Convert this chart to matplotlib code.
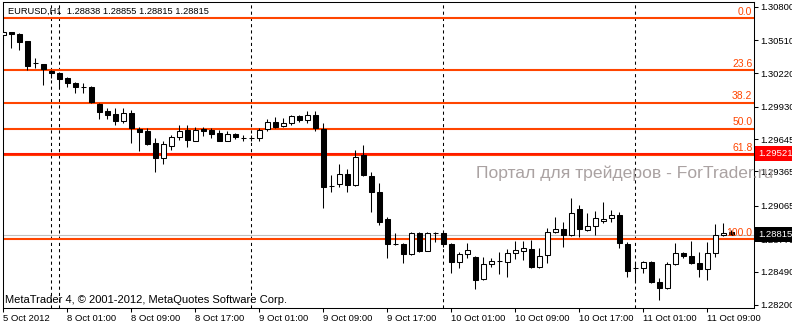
import numpy as np
import matplotlib
matplotlib.use("Agg")
import matplotlib.pyplot as plt

plt.rcParams['font.family'] = ['Liberation Sans', 'DejaVu Sans']

# EURUSD H1 candles (bar index = position on the time axis)
opens = [1.30556, 1.30579, 1.30564, 1.30499, 1.30309, 1.30300, 1.30239, 1.30222, 1.30178, 1.30134,
         1.30105, 1.30099, 1.29954, 1.29893, 1.29867, 1.29808, 1.29878, 1.29733, 1.29720, 1.29611,
         1.29485, 1.29590, 1.29663, 1.29727, 1.29634, 1.29733, 1.29727, 1.29703, 1.29634, 1.29692,
         1.29660, 1.29654, 1.29654, 1.29733, 1.29799, 1.29762, 1.29785, 1.29849, 1.29814, 1.29858,
         1.29733, 1.29238, 1.29256, 1.29340, 1.29247, 1.29509, 1.29326, 1.29188, 1.28950, 1.28732,
         1.28732, 1.28642, 1.28826, 1.28674, 1.28831, 1.28826, 1.28730, 1.28578, 1.28642, 1.28621,
         1.28424, 1.28555, 1.28584, 1.28578, 1.28651, 1.28674, 1.28686, 1.28534, 1.28636, 1.28839,
         1.28860, 1.28811, 1.29036, 1.28854, 1.28889, 1.28933, 1.28957, 1.28985, 1.28732, 1.28525,
         1.28525, 1.28573, 1.28403, 1.28346, 1.28558, 1.28651, 1.28627, 1.28569, 1.28511, 1.28651,
         1.28811, 1.28838]
highs = [1.30695, 1.30586, 1.30573, 1.30503, 1.30355, 1.30307, 1.30250, 1.30233, 1.30189, 1.30146,
         1.30137, 1.30111, 1.29962, 1.29919, 1.29919, 1.29919, 1.29901, 1.29756, 1.29744, 1.29654,
         1.29631, 1.29683, 1.29770, 1.29770, 1.29756, 1.29756, 1.29742, 1.29727, 1.29720, 1.29703,
         1.29683, 1.29683, 1.29742, 1.29820, 1.29838, 1.29829, 1.29858, 1.29858, 1.29893, 1.29893,
         1.29785, 1.29334, 1.29430, 1.29386, 1.29552, 1.29596, 1.29363, 1.29262, 1.28968, 1.28831,
         1.28741, 1.28839, 1.28839, 1.28839, 1.28837, 1.28837, 1.28738, 1.28665, 1.28743, 1.28627,
         1.28616, 1.28607, 1.28665, 1.28686, 1.28761, 1.28761, 1.28767, 1.28695, 1.28869, 1.28970,
         1.28924, 1.29131, 1.29072, 1.29000, 1.29020, 1.29101, 1.29029, 1.29014, 1.28752, 1.28578,
         1.28586, 1.28586, 1.28433, 1.28578, 1.28738, 1.28662, 1.28761, 1.28665, 1.28752, 1.28907,
         1.28913, 1.28855]
lows = [1.30477, 1.30442, 1.30425, 1.30250, 1.30268, 1.30120, 1.30181, 1.30093, 1.30102, 1.30050,
        1.30050, 1.29962, 1.29823, 1.29823, 1.29770, 1.29788, 1.29613, 1.29546, 1.29596, 1.29363,
        1.29430, 1.29552, 1.29640, 1.29576, 1.29631, 1.29675, 1.29654, 1.29631, 1.29631, 1.29646,
        1.29634, 1.29631, 1.29634, 1.29720, 1.29742, 1.29750, 1.29770, 1.29799, 1.29790, 1.29720,
        1.29049, 1.29188, 1.29232, 1.29188, 1.29238, 1.29326, 1.29009, 1.28898, 1.28607, 1.28724,
        1.28569, 1.28636, 1.28662, 1.28671, 1.28752, 1.28706, 1.28482, 1.28520, 1.28613, 1.28340,
        1.28418, 1.28534, 1.28468, 1.28447, 1.28599, 1.28593, 1.28523, 1.28526, 1.28564, 1.28828,
        1.28703, 1.28802, 1.28796, 1.28845, 1.28811, 1.28913, 1.28924, 1.28695, 1.28447, 1.28403,
        1.28477, 1.28392, 1.28244, 1.28340, 1.28549, 1.28610, 1.28558, 1.28447, 1.28418, 1.28621,
        1.28802, 1.28815]
closes = [1.30579, 1.30564, 1.30497, 1.30288, 1.30309, 1.30259, 1.30222, 1.30172, 1.30134, 1.30105,
          1.30105, 1.29974, 1.29886, 1.29858, 1.29808, 1.29878, 1.29742, 1.29712, 1.29602, 1.29485,
          1.29605, 1.29663, 1.29720, 1.29640, 1.29727, 1.29720, 1.29692, 1.29634, 1.29692, 1.29668,
          1.29660, 1.29654, 1.29727, 1.29799, 1.29756, 1.29785, 1.29849, 1.29814, 1.29858, 1.29742,
          1.29232, 1.29238, 1.29340, 1.29247, 1.29494, 1.29334, 1.29188, 1.28924, 1.28730, 1.28732,
          1.28642, 1.28826, 1.28671, 1.28831, 1.28831, 1.28730, 1.28578, 1.28642, 1.28680, 1.28418,
          1.28558, 1.28586, 1.28584, 1.28651, 1.28680, 1.28695, 1.28534, 1.28627, 1.28839, 1.28860,
          1.28811, 1.29006, 1.28860, 1.28889, 1.28957, 1.28946, 1.28985, 1.28738, 1.28499, 1.28525,
          1.28573, 1.28403, 1.28346, 1.28558, 1.28651, 1.28627, 1.28569, 1.28511, 1.28651, 1.28811,
          1.28831, 1.28815]

time_labels = ["5 Oct 2012", "8 Oct 01:00", "8 Oct 09:00", "8 Oct 17:00", "9 Oct 01:00",
               "9 Oct 09:00", "9 Oct 17:00", "10 Oct 01:00", "10 Oct 09:00", "10 Oct 17:00",
               "11 Oct 01:00", "11 Oct 09:00"]
time_label_bars = [0, 8, 16, 24, 32, 40, 48, 56, 64, 72, 80, 88]
separator_bars = [6, 7, 31, 55, 79]

price_ticks = [1.30800, 1.30510, 1.30220, 1.29930, 1.29645, 1.29365, 1.29065, 1.28775, 1.28490, 1.28200]

fib_high = 1.30701
fib_low = 1.28776
fib_levels = [0.0, 23.6, 38.2, 50.0, 61.8, 100.0]
hline_price = 1.29521
bid_price = 1.28815

W, H = 792, 325
fig = plt.figure(figsize=(W / 100, H / 100), dpi=100)
ax = fig.add_axes([3 / W, 1 - 308 / H, 751 / W, 306 / H])

x = np.arange(len(opens))
o = np.array(opens)
c = np.array(closes)

# bid line
ax.axhline(bid_price, color='#c0c0c0', lw=0.8, zorder=1)

# fibonacci levels
orange = '#ff4500'
for lev in fib_levels:
    p = fib_high - (fib_high - fib_low) * lev / 100
    ax.axhline(p, color=orange, lw=1.5, zorder=2)
    ax.annotate(f"{lev:.1f}", xy=(0.998, p), xycoords=('axes fraction', 'data'),
                xytext=(0, 1), textcoords='offset points', ha='right', va='bottom',
                color=orange, fontsize=7.5, zorder=6)
ax.axhline(hline_price, color='#ff1a00', lw=1.5, zorder=2)

# day separators
for b in separator_bars:
    ax.axvline(b, color='black', lw=0.75, linestyle=(0, (3, 3)), zorder=1.5)

# candles
ax.vlines(x, lows, highs, color='black', lw=0.75, zorder=3)
up = c >= o
ax.bar(x[up], (c - o)[up], bottom=o[up], width=0.625, color='white',
       edgecolor='black', lw=0.75, zorder=4)
ax.bar(x[~up], (c - o)[~up], bottom=o[~up], width=0.625, color='black',
       edgecolor='black', lw=0.75, zorder=4)

ax.set_xlim(0, 751 / 8)
ax.set_ylim(1.281738, 1.308436)

ax.set_xticks(time_label_bars)
ax.set_xticklabels(time_labels, fontsize=6.8, ha='left')
ax.yaxis.tick_right()
ax.set_yticks(price_ticks)
ax.set_yticklabels([f"{v:.5f}" for v in price_ticks], fontsize=6.8)
ax.tick_params(axis='x', length=3, width=0.75, pad=1.5)
ax.tick_params(axis='y', length=3, width=0.75, pad=1.5)
for s in ax.spines.values():
    s.set_linewidth(0.75)

# price labels on the axis
ax.annotate(f"{hline_price:.5f}", xy=(1.0, hline_price), xycoords=('axes fraction', 'data'),
            xytext=(3, 0), textcoords='offset points', ha='left', va='center',
            color='white', fontsize=6.8, zorder=7, annotation_clip=False,
            bbox=dict(boxstyle='square,pad=0.3', fc='#ff0000', ec='none'))
ax.annotate(f"{bid_price:.5f}", xy=(1.0, bid_price), xycoords=('axes fraction', 'data'),
            xytext=(3, 0), textcoords='offset points', ha='left', va='center',
            color='white', fontsize=6.8, zorder=7, annotation_clip=False,
            bbox=dict(boxstyle='square,pad=0.3', fc='black', ec='none'))

fig.text(8 / W, 1 - 11 / H, "EURUSD,H1  1.28838 1.28855 1.28815 1.28815",
         fontsize=6.7, va='center', ha='left')
fig.text(5 / W, 1 - 300 / H, "MetaTrader 4, \u00a9 2001-2012, MetaQuotes Software Corp.",
         fontsize=8, va='center', ha='left')
fig.text(476 / W, 1 - 173 / H, "Портал для трейдеров - ForTrader.ru",
         fontsize=12.6, va='center', ha='left', color='#aaa2a2', zorder=20)

fig.savefig("out.png", dpi=100)
